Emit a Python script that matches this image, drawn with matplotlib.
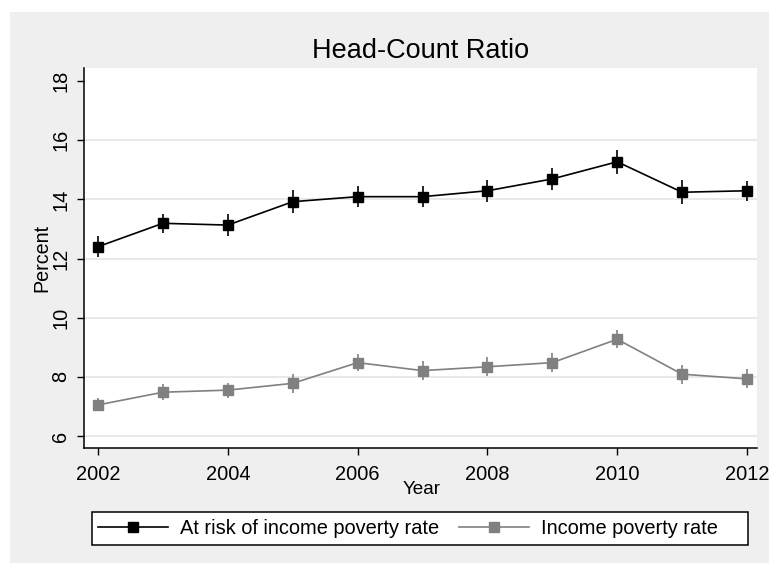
import matplotlib
matplotlib.use("Agg")
import matplotlib.pyplot as plt
from matplotlib.patches import Rectangle

years = [2002, 2003, 2004, 2005, 2006, 2007, 2008, 2009, 2010, 2011, 2012]
at_risk = [12.40, 13.19, 13.13, 13.92, 14.09, 14.09, 14.29, 14.69, 15.27, 14.24, 14.29]
at_risk_err = [0.36, 0.32, 0.37, 0.39, 0.35, 0.35, 0.37, 0.38, 0.41, 0.41, 0.34]
income = [7.05, 7.48, 7.55, 7.78, 8.48, 8.21, 8.34, 8.48, 9.27, 8.09, 7.93]
income_err = [0.22, 0.27, 0.25, 0.32, 0.29, 0.31, 0.32, 0.32, 0.31, 0.32, 0.32]

x_ticks = [2002, 2004, 2006, 2008, 2010, 2012]
y_ticks = [6, 8, 10, 12, 14, 16, 18]
grid_vals = [6, 8, 10, 12, 14, 16]

plt.rcParams["font.family"] = ["Liberation Sans", "DejaVu Sans"]

W, H = 769, 563
fig = plt.figure(figsize=(W / 100, H / 100), dpi=100, facecolor="white")
# grey outer region (Stata style)
fig.add_artist(Rectangle((10 / W, 0), 1, 1 - 12 / H, transform=fig.transFigure,
                         facecolor="#efefef", edgecolor="none", zorder=-5))

ax = fig.add_axes([84 / W, 1 - 448 / H, (757 - 84) / W, (448 - 68) / H])
ax.set_facecolor("white")

for g in grid_vals:
    ax.axhline(g, color="#e3e3e3", lw=1.1, zorder=0)

grey = "#808080"
l1, = ax.plot(years, at_risk, color="black", lw=1.2, marker="s", ms=6.5,
              label="At risk of income poverty rate", zorder=3)
ax.errorbar(years, at_risk, yerr=at_risk_err, fmt="none", ecolor="black",
            elinewidth=1.2, capsize=0, zorder=3)
l2, = ax.plot(years, income, color=grey, lw=1.2, marker="s", ms=6.5,
              label="Income poverty rate", zorder=3)
ax.errorbar(years, income, yerr=income_err, fmt="none", ecolor=grey,
            elinewidth=1.2, capsize=0, zorder=3)

ax.set_xlim(2001.784, 2012.154)
ax.set_ylim(5.594, 18.44)
ax.set_xticks(x_ticks)
ax.set_yticks(y_ticks)

for s in ["top", "right"]:
    ax.spines[s].set_visible(False)
for s in ["left", "bottom"]:
    ax.spines[s].set_linewidth(1.1)

ax.tick_params(axis="both", length=5, width=1.0, labelsize=14.4)
ax.tick_params(axis="x", pad=7)
ax.tick_params(axis="y", pad=5)
for lab in ax.get_yticklabels():
    lab.set_rotation(90)
    lab.set_va("center")

ax.set_ylabel("Percent", fontsize=14.2, va="baseline")
ax.yaxis.set_label_coords(-0.055, 0.5)
ax.set_xlabel("Year", fontsize=13.6, va="baseline")
ax.xaxis.set_label_coords(0.502, -0.12)

fig.text((84 + 757) / 2 / W, 1 - 58 / H, "Head-Count Ratio", fontsize=19.5,
         ha="center", va="baseline")

# legend box drawn separately so its padding matches the original
fig.add_artist(Rectangle((92 / W, 1 - 545 / H), (748 - 92) / W, 33 / H,
                         transform=fig.transFigure, facecolor="white",
                         edgecolor="black", lw=1.1, zorder=1))
leg = fig.legend(handles=[l1, l2], loc="center left",
                 bbox_to_anchor=(92 / W, 1 - 528.5 / H), borderaxespad=0,
                 ncol=2, fontsize=14.4, handlelength=3.5, handletextpad=0.6,
                 columnspacing=1.0, borderpad=0.3, frameon=False)
leg.set_zorder(2)

fig.savefig("out.png", dpi=100)
